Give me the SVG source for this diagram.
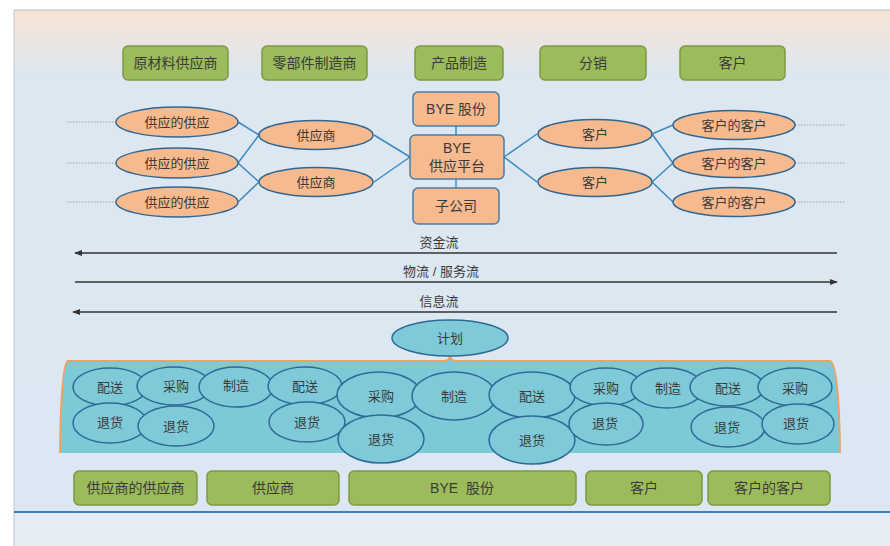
<svg xmlns="http://www.w3.org/2000/svg" width="890" height="546" viewBox="0 0 890 546">
<defs>
<linearGradient id="bg" x1="0" y1="0" x2="0" y2="1" gradientUnits="objectBoundingBox">
<stop offset="0" stop-color="#f8e3d6"/>
<stop offset="0.13" stop-color="#dce7f1"/>
<stop offset="1" stop-color="#dbe7f2"/>
</linearGradient>
<marker id="ah" viewBox="0 0 10 10" refX="9" refY="5" markerWidth="8" markerHeight="8" markerUnits="userSpaceOnUse" orient="auto-start-reverse">
<path d="M0,1 L10,5 L0,9 Z" fill="#333"/>
</marker>
<style>
text{font-family:"Liberation Sans","Noto Sans CJK SC",sans-serif;fill:#3a3a3a;text-anchor:middle;dominant-baseline:central}
.g{fill:#9cbb5b;stroke:#7c9a43;stroke-width:1.5}
.o{fill:#f7b98e;stroke:#4b7ea6;stroke-width:1.5}
.oe{fill:#f7b98e;stroke:#2f6792;stroke-width:1.5}
.be{fill:#7ecad8;stroke:#2f6a96;stroke-width:1.5}
.t14{font-size:14px}
.t13{font-size:13px}
.ln{stroke:#3b8ac2;stroke-width:1.5;fill:none}
.dot{stroke:#9aa4ad;stroke-width:1;stroke-dasharray:1.5 1.5;fill:none}
.flow{stroke:#333;stroke-width:1.5;fill:none}
</style>
</defs>
<rect x="0" y="0" width="890" height="546" fill="#ffffff"/>
<rect x="14" y="10" width="876" height="502" fill="url(#bg)"/>
<rect x="14" y="512" width="876" height="34" fill="#e5ecf3"/>
<line x1="14" y1="10" x2="890" y2="10" stroke="#b8bcc0" stroke-width="1"/>
<line x1="14" y1="10" x2="14" y2="546" stroke="#c4c8cc" stroke-width="1"/>
<line x1="14" y1="512" x2="890" y2="512" stroke="#3a7fc0" stroke-width="2"/>

<g id="connectors">
<line class="ln" x1="238" y1="122" x2="259" y2="135"/>
<line class="ln" x1="238" y1="163" x2="259" y2="135"/>
<line class="ln" x1="238" y1="163" x2="259" y2="182"/>
<line class="ln" x1="238" y1="202" x2="259" y2="182"/>
<line class="ln" x1="374" y1="135" x2="410" y2="157"/>
<line class="ln" x1="374" y1="182" x2="410" y2="157"/>
<line class="ln" x1="504" y1="157" x2="537" y2="134"/>
<line class="ln" x1="504" y1="157" x2="537" y2="182"/>
<line class="ln" x1="652" y1="134" x2="673" y2="125"/>
<line class="ln" x1="652" y1="134" x2="673" y2="163"/>
<line class="ln" x1="652" y1="182" x2="673" y2="163"/>
<line class="ln" x1="652" y1="182" x2="673" y2="202"/>
<line class="ln" x1="456" y1="126" x2="456" y2="135"/>
<line class="ln" x1="456" y1="179" x2="456" y2="188"/>
<line class="dot" x1="67" y1="122" x2="116" y2="122"/>
<line class="dot" x1="67" y1="163" x2="116" y2="163"/>
<line class="dot" x1="67" y1="202" x2="116" y2="202"/>
<line class="dot" x1="795" y1="125" x2="845" y2="125"/>
<line class="dot" x1="795" y1="163" x2="845" y2="163"/>
<line class="dot" x1="795" y1="202" x2="845" y2="202"/>
<line class="flow" x1="837" y1="253" x2="75" y2="253" marker-end="url(#ah)"/>
<line class="flow" x1="75" y1="282" x2="837" y2="282" marker-end="url(#ah)"/>
<line class="flow" x1="837" y1="312" x2="73" y2="312" marker-end="url(#ah)"/>
</g>

<g id="top-stages">
<g id="s1"><rect class="g" x="123" y="46" width="105" height="34" rx="5"/><text class="t14" x="175.5" y="63">原材料供应商</text></g>
<g id="s2"><rect class="g" x="262" y="46" width="105" height="34" rx="5"/><text class="t14" x="314.5" y="63">零部件制造商</text></g>
<g id="s3"><rect class="g" x="415" y="46" width="88" height="34" rx="5"/><text class="t14" x="459" y="63">产品制造</text></g>
<g id="s4"><rect class="g" x="540" y="46" width="106" height="34" rx="5"/><text class="t14" x="593" y="63">分销</text></g>
<g id="s5"><rect class="g" x="680" y="46" width="105" height="34" rx="5"/><text class="t14" x="732.5" y="63">客户</text></g>
</g>

<g id="bye-stock"><rect class="o" x="413" y="92" width="86" height="34" rx="5"/><text class="t14" x="456" y="109">BYE 股份</text></g>
<g id="bye-platform"><rect class="o" x="410" y="135" width="94" height="44" rx="5"/><text class="t14" x="457" y="148">BYE</text><text class="t14" x="457" y="166">供应平台</text></g>
<g id="subsidiary"><rect class="o" x="413" y="188" width="86" height="36" rx="5"/><text class="t14" x="456" y="206">子公司</text></g>

<g id="ss1"><ellipse class="oe" cx="177" cy="122" rx="61" ry="15"/><text class="t13" x="177" y="122">供应的供应</text></g>
<g id="ss2"><ellipse class="oe" cx="177" cy="163" rx="61" ry="15"/><text class="t13" x="177" y="163">供应的供应</text></g>
<g id="ss3"><ellipse class="oe" cx="177" cy="202" rx="61" ry="15"/><text class="t13" x="177" y="202">供应的供应</text></g>
<g id="sup1"><ellipse class="oe" cx="316" cy="135" rx="57" ry="14.5"/><text class="t13" x="316" y="135">供应商</text></g>
<g id="sup2"><ellipse class="oe" cx="316" cy="182" rx="57" ry="14.5"/><text class="t13" x="316" y="182">供应商</text></g>
<g id="cus1"><ellipse class="oe" cx="595" cy="134" rx="57" ry="14.5"/><text class="t13" x="595" y="134">客户</text></g>
<g id="cus2"><ellipse class="oe" cx="595" cy="182" rx="57" ry="14.5"/><text class="t13" x="595" y="182">客户</text></g>
<g id="cc1"><ellipse class="oe" cx="734" cy="125" rx="61" ry="14.5"/><text class="t13" x="734" y="125">客户的客户</text></g>
<g id="cc2"><ellipse class="oe" cx="734" cy="163" rx="61" ry="14.5"/><text class="t13" x="734" y="163">客户的客户</text></g>
<g id="cc3"><ellipse class="oe" cx="734" cy="202" rx="61" ry="14.5"/><text class="t13" x="734" y="202">客户的客户</text></g>

<g id="flow-labels">
<text class="t13" x="439" y="242">资金流</text>
<text class="t13" x="441" y="271">物流 / 服务流</text>
<text class="t13" x="439" y="301">信息流</text>
</g>

<g id="band">
<path d="M68,361 L444,361 Q449,361 450,356 Q451,361 456,361 L830,361 Q839,364 840,453 L60,453 Q61,364 68,361 Z" fill="#7ccad8"/>
<path d="M60,453 Q61,364 68,361 L444,361 Q449,361 450,356 Q451,361 456,361 L830,361 Q839,364 840,453" fill="none" stroke="#f2a062" stroke-width="2"/>
</g>

<g id="plan"><ellipse class="be" cx="450" cy="338" rx="58" ry="18"/><text class="t13" x="450" y="338">计划</text></g>

<g id="b1"><ellipse class="be" cx="110" cy="387" rx="37" ry="19"/><text class="t13" x="110" y="387">配送</text></g>
<g id="b2"><ellipse class="be" cx="174" cy="386" rx="37" ry="19"/><text class="t13" x="176" y="386">采购</text></g>
<g id="b3"><ellipse class="be" cx="236" cy="387" rx="37" ry="20"/><text class="t13" x="236" y="385">制造</text></g>
<g id="b4"><ellipse class="be" cx="305" cy="386" rx="37" ry="19"/><text class="t13" x="305" y="386">配送</text></g>
<g id="b5"><ellipse class="be" cx="110" cy="423" rx="37" ry="20"/><text class="t13" x="110" y="422">退货</text></g>
<g id="b6"><ellipse class="be" cx="176" cy="426" rx="38" ry="20"/><text class="t13" x="176" y="426">退货</text></g>
<g id="b7"><ellipse class="be" cx="307" cy="422" rx="38" ry="20"/><text class="t13" x="307" y="422">退货</text></g>
<g id="b8"><ellipse class="be" cx="379" cy="395" rx="42" ry="23"/><text class="t13" x="381" y="396">采购</text></g>
<g id="b9"><ellipse class="be" cx="381" cy="439" rx="43" ry="24"/><text class="t13" x="381" y="439">退货</text></g>
<g id="b10"><ellipse class="be" cx="454" cy="396" rx="42" ry="24"/><text class="t13" x="454" y="396">制造</text></g>
<g id="b11"><ellipse class="be" cx="532" cy="395" rx="43" ry="23"/><text class="t13" x="532" y="396">配送</text></g>
<g id="b12"><ellipse class="be" cx="532" cy="440" rx="43" ry="24"/><text class="t13" x="532" y="440">退货</text></g>
<g id="b13"><ellipse class="be" cx="606" cy="387" rx="36" ry="19"/><text class="t13" x="606" y="388">采购</text></g>
<g id="b14"><ellipse class="be" cx="606" cy="424" rx="37" ry="21"/><text class="t13" x="605" y="423">退货</text></g>
<g id="b15"><ellipse class="be" cx="667" cy="388" rx="36" ry="20"/><text class="t13" x="668" y="388">制造</text></g>
<g id="b16"><ellipse class="be" cx="727" cy="387" rx="37" ry="19"/><text class="t13" x="728" y="388">配送</text></g>
<g id="b17"><ellipse class="be" cx="795" cy="387" rx="37" ry="19"/><text class="t13" x="795" y="388">采购</text></g>
<g id="b18"><ellipse class="be" cx="728" cy="427" rx="37" ry="20"/><text class="t13" x="727" y="427">退货</text></g>
<g id="b19"><ellipse class="be" cx="798" cy="424" rx="36" ry="20"/><text class="t13" x="796" y="423">退货</text></g>

<g id="bottom-stages">
<g id="p1"><rect class="g" x="74" y="471" width="123" height="34" rx="5"/><text class="t14" x="135.5" y="488">供应商的供应商</text></g>
<g id="p2"><rect class="g" x="207" y="471" width="132" height="34" rx="5"/><text class="t14" x="273" y="488">供应商</text></g>
<g id="p3"><rect class="g" x="349" y="471" width="227" height="34" rx="5"/><text class="t14" x="462" y="488" xml:space="preserve">BYE  股份</text></g>
<g id="p4"><rect class="g" x="586" y="471" width="116" height="34" rx="5"/><text class="t14" x="644" y="488">客户</text></g>
<g id="p5"><rect class="g" x="708" y="471" width="122" height="34" rx="5"/><text class="t14" x="769" y="488">客户的客户</text></g>
</g>
</svg>
